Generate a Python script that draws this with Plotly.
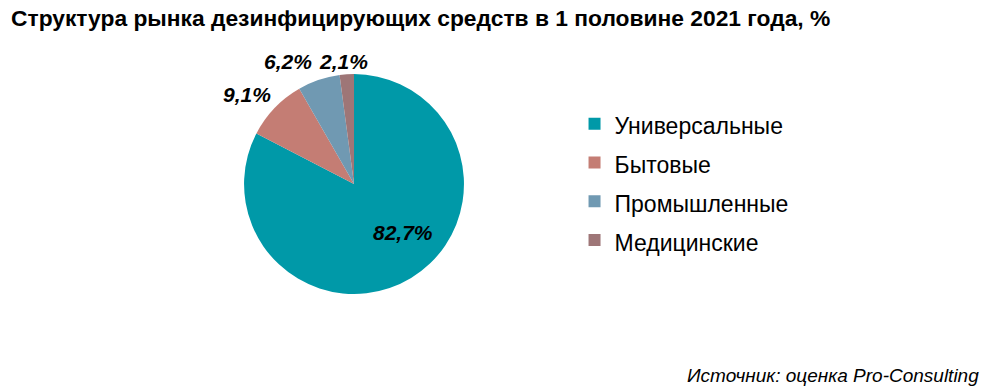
import plotly.graph_objects as go

categories = ["Универсальные", "Бытовые", "Промышленные", "Медицинские"]
values = [82.7, 9.1, 6.2, 2.1]
colors = ["#0099A8", "#C47D74", "#7099B2", "#9E7677"]
# label anchor positions (paper coords) for each slice's percentage text
label_pos = [(0.4054, 0.408), (0.2485, 0.7577), (0.2897, 0.844), (0.346, 0.844)]

fig = go.Figure()
fig.add_trace(go.Pie(
    labels=[f'<span style="font-size:23px">{c}</span>' for c in categories],
    values=values,
    sort=False,
    direction="clockwise",
    rotation=0,
    marker=dict(colors=colors, line=dict(color="white", width=0)),
    textinfo="none",
    hovertemplate="%{percent}<extra></extra>",
    domain=dict(x=[0.2455, 0.4668], y=[0.25, 0.811]),
))

annotations = []
for v, (px, py) in zip(values, label_pos):
    annotations.append(dict(
        x=px, y=py, xref="paper", yref="paper", showarrow=False,
        text="<b><i>" + f"{v:.1f}".replace(".", ",") + "%</i></b>",
        font=dict(family="Liberation Sans, Arial", size=21, color="black"),
        xanchor="center", yanchor="middle",
    ))
annotations.append(dict(
    x=0.987, y=0.043, xref="paper", yref="paper", showarrow=False,
    text="<i>Источник: оценка Pro-Consulting</i>",
    font=dict(family="Liberation Sans, Arial", size=19, color="black"),
    xanchor="right", yanchor="middle",
))
annotations.append(dict(
    x=0.009, y=0.954, xref="paper", yref="paper", showarrow=False,
    text="<b>Структура рынка дезинфицирующих средств в 1 половине 2021 года, %</b>",
    font=dict(family="Liberation Sans, Arial", size=22.8, color="black"),
    xanchor="left", yanchor="middle",
))

fig.update_layout(
    width=994, height=392,
    margin=dict(l=0, r=0, t=0, b=0),
    paper_bgcolor="white", plot_bgcolor="white",
    legend=dict(
        x=0.578, y=0.536, xanchor="left", yanchor="middle",
        font=dict(family="Liberation Sans, Arial", size=27.5, color="black"),
        bgcolor="rgba(0,0,0,0)",
    ),
    annotations=annotations,
)

fig.write_html("out.html", config={"displayModeBar": False},
               post_script="document.body.style.margin='0';")
